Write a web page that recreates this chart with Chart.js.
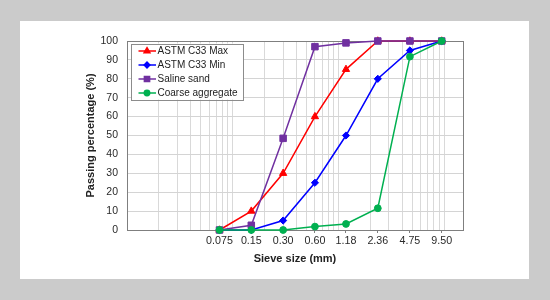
<!DOCTYPE html>
<html>
<head>
<meta charset="utf-8">
<script src="https://cdn.jsdelivr.net/npm/chart.js@4.4.0/dist/chart.umd.min.js"></script>
<style>
  html, body { margin: 0; padding: 0; background: #cbcbcb; }
  #panel { position: absolute; left: 20px; top: 21px; width: 509px; height: 258px; background: #fff; }
  #wrap { position: absolute; left: 0; top: 0; width: 550px; height: 300px; }
</style>
</head>
<body>
<div id="panel"></div>
<div id="wrap"><canvas id="grading" width="550" height="300"></canvas></div>
<script>
const sieveSizes = [0.075, 0.15, 0.30, 0.60, 1.18, 2.36, 4.75, 9.50];
const sieveLabels = ["0.075", "0.15", "0.30", "0.60", "1.18", "2.36", "4.75", "9.50"];
const astmMax = [0, 10, 30, 60, 85, 100, 100, 100];
const astmMin = [0, 0, 5, 25, 50, 80, 95, 100];
const salineSand = [0, 2.5, 48.5, 97, 99, 100, 100, 100];
const coarseAgg = [0, 0, 0, 1.8, 3.2, 11.5, 91.7, 100];
// log grid lines of the x axis
const gridSizes = [0.01, 0.02, 0.03, 0.04, 0.05, 0.06, 0.07, 0.08, 0.09,
  0.1, 0.2, 0.3, 0.4, 0.5, 0.6, 0.7, 0.8, 0.9,
  1, 2, 3, 4, 5, 6, 7, 8, 9, 10];

const FONT = "'Liberation Sans', Arial, sans-serif";

function points(values) {
  return sieveSizes.map(function (s, i) {
    return { x: s, y: values[i] };
  });
}

function serie(label, values, color, style, radius, order) {
  return {
    label: label,
    data: points(values),
    borderColor: color,
    backgroundColor: color,
    borderWidth: 1.5,
    pointStyle: style,
    pointRadius: radius,
    pointBorderWidth: 1,
    tension: 0,
    clip: false,
    order: order,
  };
}

// frame round the plot area, under the series
const frame = {
  id: "frame",
  beforeDatasetsDraw(chart) {
    const a = chart.chartArea;
    const ctx = chart.ctx;
    ctx.save();
    ctx.strokeStyle = "#7f7f7f";
    ctx.lineWidth = 1;
    ctx.strokeRect(Math.round(a.left) + 0.5, Math.round(a.top) + 0.5,
      Math.round(a.right - a.left), Math.round(a.bottom - a.top));
    ctx.restore();
  },
};

// legend box inside the plot, top left
const boxLegend = {
  id: "boxLegend",
  afterDatasetsDraw(chart) {
    const ctx = chart.ctx;
    const a = chart.chartArea;
    const x0 = a.left + 4, y0 = a.top + 2.5;
    const w = 112, h = 56;
    ctx.save();
    ctx.fillStyle = "#fff";
    ctx.fillRect(x0, y0, w, h);
    ctx.strokeStyle = "#8c8c8c";
    ctx.lineWidth = 1;
    ctx.strokeRect(Math.round(x0) + 0.5, Math.round(y0) + 0.5, w, h);
    ctx.font = "10px " + FONT;
    ctx.textBaseline = "middle";
    chart.data.datasets.forEach(function (ds, i) {
      const y = y0 + 7.5 + i * 14;
      ctx.strokeStyle = ds.borderColor;
      ctx.lineWidth = 1.5;
      ctx.beginPath();
      ctx.moveTo(x0 + 7.5, y);
      ctx.lineTo(x0 + 25, y);
      ctx.stroke();
      ctx.fillStyle = ds.backgroundColor;
      Chart.helpers.drawPoint(ctx, {
        pointStyle: ds.pointStyle,
        radius: ds.pointRadius * 0.8,
        borderWidth: 1,
        rotation: 0,
      }, x0 + 16, y);
      ctx.fillStyle = "#222";
      ctx.fillText(ds.label, x0 + 26.5, y + 0.5);
    });
    ctx.restore();
  },
};

new Chart(document.getElementById("grading"), {
  type: "line",
  data: {
    datasets: [
      serie("ASTM C33 Max", astmMax, "#ff0000", "triangle", 4.2, 4),
      serie("ASTM C33 Min", astmMin, "#0000ff", "rectRot", 3.6, 3),
      serie("Saline sand", salineSand, "#7030a0", "rect", 4.6, 2),
      serie("Coarse aggregate", coarseAgg, "#00b050", "circle", 3.4, 1),
    ],
  },
  options: {
    responsive: false,
    animation: false,
    layout: { padding: { left: 80, top: 41, right: 87, bottom: 30 } },
    plugins: {
      legend: { display: false },
      tooltip: { enabled: false },
    },
    scales: {
      xGrid: {
        type: "logarithmic",
        position: "bottom",
        min: 0.01,
        max: 15.1,
        afterBuildTicks: function (s) {
          s.ticks = gridSizes.map(function (v) { return { value: v }; });
        },
        afterFit: function (s) { s.height = 0; },
        ticks: { display: false, autoSkip: false },
        grid: { color: "#d9d9d9", lineWidth: 1, drawTicks: false },
        border: { display: false },
      },
      x: {
        type: "logarithmic",
        position: "bottom",
        min: 0.01,
        max: 15.1,
        afterBuildTicks: function (s) {
          s.ticks = sieveSizes.map(function (v) { return { value: v }; });
        },
        afterFit: function (s) { s.height = 40; },
        ticks: {
          autoSkip: false,
          maxRotation: 0,
          padding: 2,
          color: "#2a2a2a",
          font: { family: FONT, size: 10.7 },
          callback: function (value, index) { return sieveLabels[index]; },
        },
        grid: { drawOnChartArea: false, drawTicks: true, tickLength: 3, color: "#7f7f7f" },
        border: { display: false },
        title: {
          display: true,
          text: "Sieve size (mm)",
          color: "#222",
          font: { family: FONT, size: 11, weight: "bold" },
          padding: 4,
        },
      },
      y: {
        type: "linear",
        min: 0,
        max: 100,
        afterFit: function (s) { s.width = 47; },
        ticks: {
          stepSize: 10,
          padding: 9,
          color: "#2a2a2a",
          font: { family: FONT, size: 10.5 },
        },
        grid: { color: "#d4d4d4", lineWidth: 1, drawTicks: false },
        border: { display: false },
        title: {
          display: true,
          text: "Passing percentage (%)",
          color: "#222",
          font: { family: FONT, size: 11, weight: "bold" },
          padding: 4,
        },
      },
    },
  },
  plugins: [frame, boxLegend],
});
</script>
</body>
</html>
